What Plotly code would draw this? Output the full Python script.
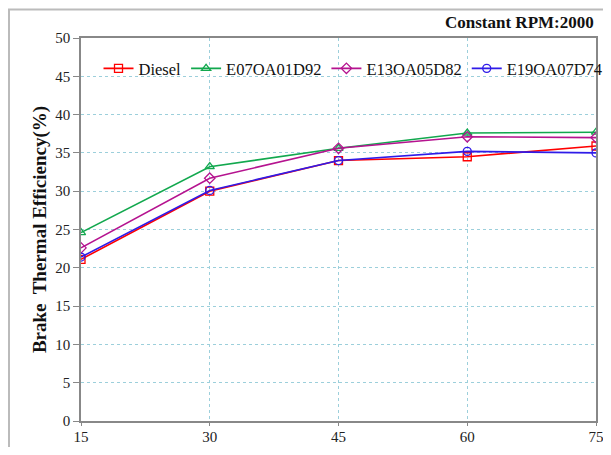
import plotly.graph_objects as go

load = [15, 30, 45, 60, 75]
diesel = [21.1, 30.0, 34.0, 34.5, 35.9]
e07 = [24.6, 33.2, 35.6, 37.6, 37.7]
e13 = [22.6, 31.7, 35.6, 37.1, 37.0]
e19 = [21.4, 30.1, 34.0, 35.2, 35.0]

series = [
    ("Diesel", diesel, "#FF0000", "square-open"),
    ("E07OA01D92", e07, "#12A84E", "triangle-up-open"),
    ("E13OA05D82", e13, "#B5138F", "diamond-open"),
    ("E19OA07D74", e19, "#2F1BE8", "circle-open"),
]

fig = go.Figure()
for name, vals, col, sym in series:
    fig.add_trace(go.Scatter(
        x=load, y=vals, name=name, mode="lines+markers",
        line=dict(color=col, width=1.6),
        marker=dict(symbol=sym, size=8, color=col, line=dict(width=1.3, color=col)),
    ))

# page body has an 8px default margin, so the figure is offset by 8px;
# keep the page inside the visible window
OFF = 8
W, H = 611 - 2 * OFF, 455 - 2 * OFF
L, R, T = 81 - OFF, 7, 38 - OFF
B = H - T - (421 - 38)
pw, ph = W - L - R, H - T - B
grid = "#9CCFDB"
fig.update_layout(
    width=W, height=H,
    margin=dict(l=L, r=R, t=T, b=B, autoexpand=False),
    paper_bgcolor="white", plot_bgcolor="white",
    font=dict(family="Liberation Serif, DejaVu Serif, serif", color="#222", size=14),
    showlegend=True,
    legend=dict(orientation="h", x=0.034, y=0.92, xanchor="left", yanchor="middle",
                bgcolor="rgba(255,255,255,0)", font=dict(size=16.5, color="#111"),
                itemwidth=30, tracegroupgap=0),
    xaxis=dict(range=[15, 75], tickvals=load, ticks="outside", ticklen=3,
               tickcolor="#888", showline=True, linecolor="#888", linewidth=2,
               mirror=True, showgrid=True, gridcolor=grid, griddash="dot",
               gridwidth=1, zeroline=False, automargin=False,
               ticklabelstandoff=-2, ticklabeloverflow="allow",
               tickfont=dict(size=15, color="#222")),
    yaxis=dict(range=[0, 50], dtick=5, ticks="outside", ticklen=6,
               tickcolor="#888", showline=True, linecolor="#888", linewidth=1.5,
               mirror=True, showgrid=True, gridcolor=grid, griddash="dot",
               gridwidth=1, zeroline=False, automargin=False,
               tickfont=dict(size=15, color="#222"),
               title=dict(text="<b>Brake  Thermal Efficiency(%)</b>",
                          font=dict(size=19, color="#111"), standoff=4)),
)
fig.add_annotation(text="<b>Constant RPM:2000</b>", xref="paper", yref="paper",
                   x=1.0, y=1 + 16 / ph, xanchor="right", yanchor="middle",
                   showarrow=False, font=dict(size=17, color="#111"))
fig.add_annotation(text="<b>Load [%]</b>", xref="paper", yref="paper",
                   x=0.5, y=-(454 - OFF - (T + ph)) / ph, xanchor="center", yanchor="middle",
                   showarrow=False, font=dict(size=18, color="#111"))
# outer chart frame
fig.add_shape(type="rect", xref="paper", yref="paper",
              x0=(1 - L) / pw, x1=(W + 5 - L) / pw,
              y0=-(H + 5 - T - ph) / ph, y1=1 + (T - 1.5) / ph,
              line=dict(color="#BBBBBB", width=2), layer="below")
fig.write_html("out.html", default_width=f"{W}px", default_height=f"{H}px")
